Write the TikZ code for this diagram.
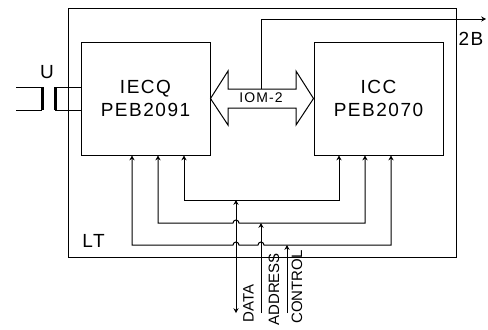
\documentclass[tikz,border=0pt]{standalone}
\usepackage{fontspec}
\usetikzlibrary{arrows.meta}
\setmainfont[LetterSpace=8]{Liberation Sans}
\newfontfamily\sidefont{Liberation Sans}
\tikzset{
	chipbox/.style={draw, minimum width=129*0.5pt, minimum height=113*0.5pt, inner sep=0pt, align=center, font=\fontsize{9.5}{11.5}\selectfont},
	lab/.style={inner sep=0pt, font=\fontsize{9.5}{11}\selectfont},
	sidelab/.style={inner sep=0pt, rotate=90, anchor=west, font=\sidefont\fontsize{7.5}{8}\selectfont},
	plate/.style={line width=1.5pt},
}
\begin{document}
\begin{tikzpicture}[>={Stealth[length=2.4pt,width=2.6pt]}, x=0.5pt, y=-0.5pt, line width=0.5pt]
	\useasboundingbox (0,0) rectangle (488,329);
	\node[draw, minimum width=388*0.5pt, minimum height=249*0.5pt, inner sep=0pt] (lt) at (262,132.5) {};
	\node[chipbox] (iecq) at (145.5,98.5) {IECQ\\PEB2091};
	\node[chipbox] (icc) at (378.5,98.5) {ICC\\PEB2070};
	\node[lab] (ltlab) at (93.5,241) {LT};
	\node[lab] (ulab) at (47,72) {U};
	\node[lab] (twob) at (471,39) {2B};
	% double arrow between the chips
	\draw[fill=white] (iecq.east) -- (228,71) -- (228,89) -- (296,89) -- (296,71) -- (icc.west)
		-- (296,125) -- (296,108) -- (228,108) -- (228,125) -- cycle;
	\node[lab, font=\fontsize{7}{8}\selectfont] (iom) at (261,98) {IOM-2};
	% line to 2B
	\coordinate (tap) at (261,89);
	\coordinate (twoend) at (486,19);
	\draw[->] (tap) |- (twoend);
	% line connection
	\coordinate (ina) at (16,87);
	\coordinate (inb) at (16,110);
	\coordinate (pla) at (42,87);
	\coordinate (plb) at (42,110);
	\coordinate (pra) at (55,87);
	\coordinate (prb) at (55,110);
	\draw (ina)--(pla) (inb)--(plb);
	\draw[plate] (pla)--(plb) (pra)--(prb);
	\draw (pra)--(pra-|iecq.west) (prb)--(prb-|iecq.west);
	% buses
	\coordinate (da) at (236,200);
	\coordinate (ad) at (261,223);
	\coordinate (co) at (287,245);
	\coordinate (dae) at (236,313);
	\coordinate (ade) at (261,313);
	\coordinate (coe) at (287,313);
	\draw[<->] (184,155.5) -- (184,200) -- (339,200) -- (339,155.5);
	\draw[<->] (158,155.5) -- (158,223) -- (233,223) arc[start angle=180, end angle=360, radius=3] -- (365,223) -- (365,155.5);
	\draw[<->] (132,155.5) -- (132,245) -- (233,245) arc[start angle=180, end angle=360, radius=3] -- (258,245) arc[start angle=180, end angle=360, radius=3] -- (391,245) -- (391,155.5);
	\draw[<->] (da) -- (dae);
	\draw[->] (ade) -- (ad);
	\draw[->] (coe) -- (co);
	\node[sidelab] (dalab) at (248.5,323) {DATA};
	\node[sidelab] (adlab) at (274,326) {ADDRESS};
	\node[sidelab] (colab) at (297,324) {CONTROL};
\end{tikzpicture}
\end{document}
